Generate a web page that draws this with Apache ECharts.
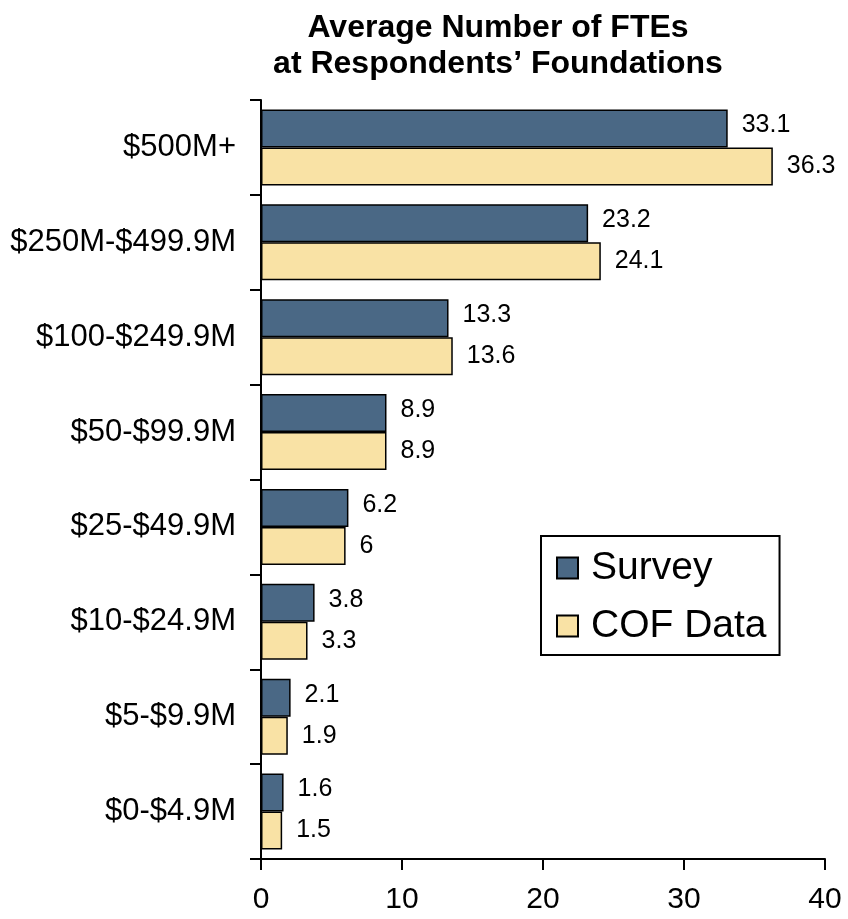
<!DOCTYPE html>
<html>
<head>
<meta charset="utf-8">
<script src="https://cdn.jsdelivr.net/npm/echarts@6/dist/echarts.min.js"></script>
<style>
  html, body { margin: 0; padding: 0; background: #fff; }
  #mychart { width: 848px; height: 919px; }
</style>
</head>
<body>
<div id="mychart"></div>
<script>
// 类目（自上而下）
const categories = ['$500M+', '$250M-$499.9M', '$100-$249.9M', '$50-$99.9M', '$25-$49.9M', '$10-$24.9M', '$5-$9.9M', '$0-$4.9M'];
const surveyData = [33.1, 23.2, 13.3, 8.9, 6.2, 3.8, 2.1, 1.6];
const cofData = [36.3, 24.1, 13.6, 8.9, 6, 3.3, 1.9, 1.5];
const xTicks = [0, 10, 20, 30, 40];

const font = 'Liberation Sans, Arial, sans-serif';

const option = {
  animation: false,
  backgroundColor: '#fff',
  title: {
    text: 'Average Number of FTEs\nat Respondents\u2019 Foundations',
    left: 493,
    top: 5,
    textAlign: 'center',
    textStyle: {
      fontFamily: font,
      fontSize: 32,
      fontWeight: 'bold',
      color: '#000',
      lineHeight: 36
    }
  },
  legend: {
    orient: 'vertical',
    left: 541,
    top: 536,
    padding: [12, 13, 9, 15],
    borderColor: '#000',
    borderWidth: 2,
    backgroundColor: '#fff',
    itemWidth: 21,
    itemHeight: 21,
    itemGap: 18,
    icon: 'rect',
    textStyle: { fontFamily: font, fontSize: 39, color: '#000', lineHeight: 40, padding: [0, 0, 0, 8] },
    data: ['Survey', 'COF Data']
  },
  grid: {
    left: 261,
    right: 23,
    top: 100,
    bottom: 60,
    containLabel: false
  },
  xAxis: {
    type: 'value',
    min: 0,
    max: 40,
    interval: 10,
    axisLine: { show: true, lineStyle: { color: '#000', width: 2 } },
    axisTick: { show: true, length: 11, lineStyle: { color: '#000', width: 2 } },
    splitLine: { show: false },
    axisLabel: {
      margin: 26,
      fontFamily: font,
      fontSize: 30,
      color: '#000',
      formatter: function (v) { return xTicks.indexOf(v) >= 0 ? String(v) : ''; }
    }
  },
  yAxis: {
    type: 'category',
    inverse: true,
    data: categories,
    axisLine: { show: true, lineStyle: { color: '#000', width: 2 } },
    axisTick: { show: true, length: 11, alignWithLabel: false, lineStyle: { color: '#000', width: 2 } },
    axisLabel: { margin: 25, fontFamily: font, fontSize: 31, color: '#000' }
  },
  series: [{
    name: 'Survey',
    type: 'bar',
    data: surveyData,
    barGap: '0%',
    barCategoryGap: '20%',
    itemStyle: { color: '#4a6885', borderColor: '#000', borderWidth: 1.5 },
    label: {
      show: true, position: 'right', distance: 14, offset: [0, -3],
      fontFamily: font, fontSize: 25, color: '#000'
    }
  }, {
    name: 'COF Data',
    type: 'bar',
    data: cofData,
    barGap: '0%',
    barCategoryGap: '20%',
    itemStyle: { color: '#f9e2a5', borderColor: '#000', borderWidth: 1.5 },
    label: {
      show: true, position: 'right', distance: 14,
      fontFamily: font, fontSize: 25, color: '#000'
    }
  }]
};

const myChart = echarts.init(document.getElementById('mychart'));
myChart.setOption(option);
</script>
</body>
</html>
